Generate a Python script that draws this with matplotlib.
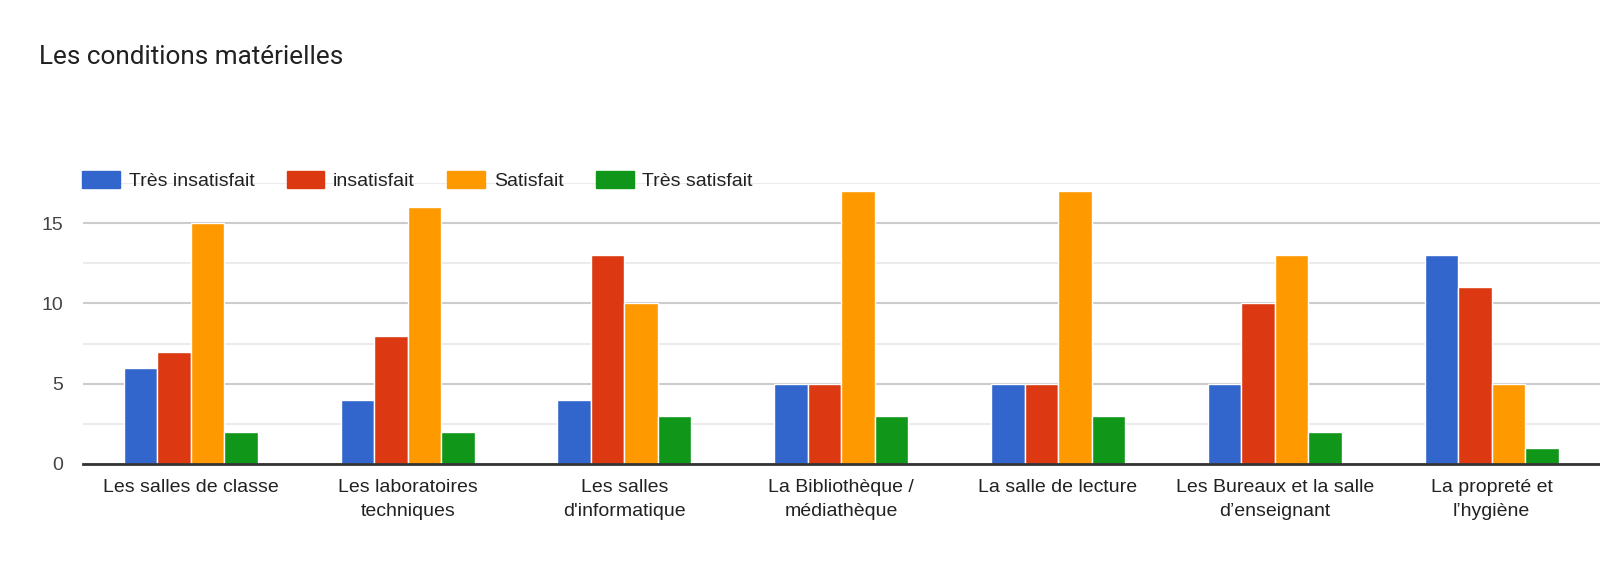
import numpy as np
import matplotlib.pyplot as plt
from matplotlib.patches import Patch

# ---- Data ----
categories = [
    "Les salles de classe",
    "Les laboratoires\ntechniques",
    "Les salles\nd'informatique",
    "La Bibliothèque /\nmédiathèque",
    "La salle de lecture",
    "Les Bureaux et la salle\nd’enseignant",
    "La propreté et\nl’hygiène",
]
series_names = ["Très insatisfait", "insatisfait", "Satisfait", "Très satisfait"]
tres_insatisfait = [6, 4, 4, 5, 5, 5, 13]
insatisfait = [7, 8, 13, 5, 5, 10, 11]
satisfait = [15, 16, 10, 17, 17, 13, 5]
tres_satisfait = [2, 2, 3, 3, 3, 2, 1]
colors = ["#3366CC", "#DC3912", "#FF9900", "#109618"]

W, H = 1600, 584
chart_font = ["Liberation Sans", "DejaVu Sans"]
text_col = "#222222"

fig = plt.figure(figsize=(W / 100, H / 100), dpi=100)
ax = fig.add_axes([82.5 / W, 120 / H, 1 - 82.5 / W, 281 / H])

x = np.arange(len(categories))
width = 0.618 / 4
all_series = [tres_insatisfait, insatisfait, satisfait, tres_satisfait]
for i, (vals, col) in enumerate(zip(all_series, colors)):
    ax.bar(x + (i - 1.5) * width, vals, width, color=col,
           edgecolor="white", linewidth=1, zorder=3)

ax.set_xlim(-0.5, len(categories) - 0.5)
ax.set_ylim(0, 17.5)
ax.set_yticks([0, 5, 10, 15])
ax.set_yticks([2.5, 7.5, 12.5, 17.5], minor=True)
ax.grid(axis="y", which="major", color="#cccccc", linewidth=1.5, zorder=0)
ax.grid(axis="y", which="minor", color="#ebebeb", linewidth=1.5, zorder=0)
ax.set_axisbelow(True)

for side in ["top", "right", "left"]:
    ax.spines[side].set_visible(False)
ax.spines["bottom"].set_color("#333333")
ax.spines["bottom"].set_linewidth(2)
ax.spines["bottom"].set_zorder(4)

ax.set_xticks(x)
ax.set_xticklabels(categories, fontsize=14, family=chart_font,
                   color=text_col, linespacing=1.55)
ax.tick_params(axis="x", length=0, pad=11)
ax.tick_params(axis="y", which="both", length=0, pad=14, labelsize=14,
               labelcolor="#444444")
for lab in ax.get_yticklabels():
    lab.set_family(chart_font)

# legend
handles = [Patch(facecolor=c, edgecolor=c, label=n)
           for c, n in zip(colors, series_names)]
fig.legend(handles=handles, loc="upper left",
           bbox_to_anchor=(82 / W, 1 - 171 / H), ncol=4, frameon=False,
           prop={"family": chart_font, "size": 14}, labelcolor=text_col,
           handlelength=1.95, handleheight=0.95, handletextpad=0.45,
           columnspacing=1.65, borderpad=0, borderaxespad=0)

fig.text(39 / W, 1 - 57 / H, "Les conditions matérielles", fontsize=18.8,
         family=["Roboto", "DejaVu Sans"], color="#212121", va="center")

fig.savefig("out.png", dpi=100, facecolor="white")
